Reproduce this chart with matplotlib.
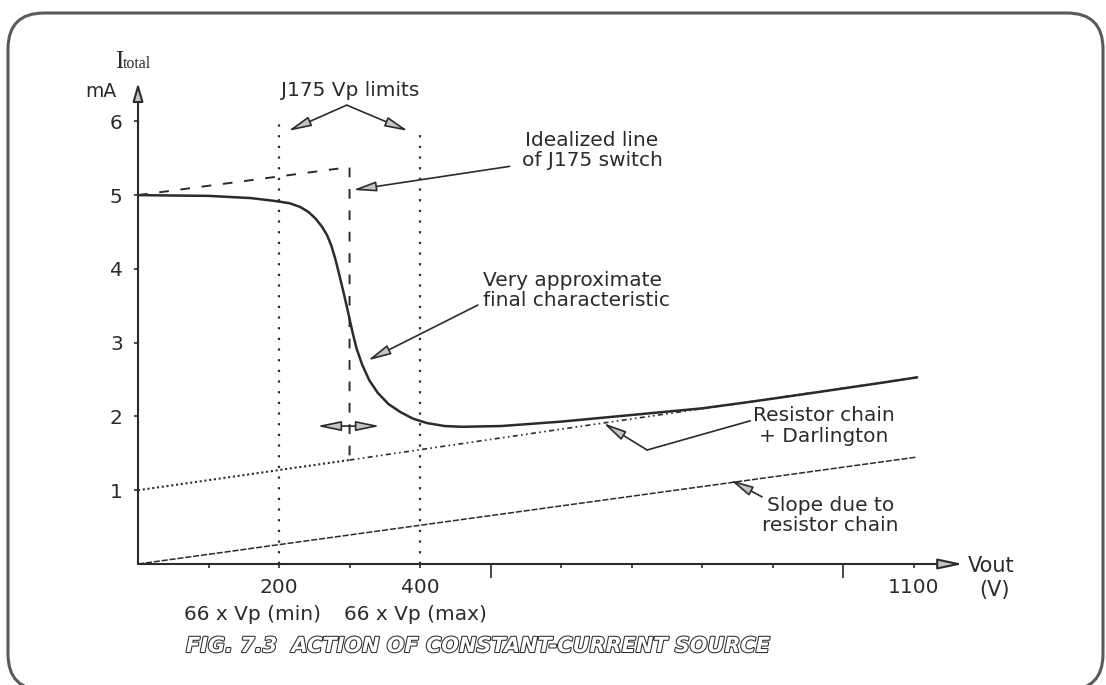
import matplotlib.pyplot as plt
import matplotlib.patheffects as pe
from matplotlib.patches import FancyBboxPatch

W, H = 1106, 685
INK = "#2b2b2b"
HEAD_FC = "#c4c4c4"

# ── curves: Vout (V) against Itotal (mA) ──
final_v = [0, 100, 160, 195, 215, 230, 242, 252, 261, 268, 274, 280, 286, 292,
           298, 304, 310, 318, 328, 340, 355, 372, 390, 410, 435, 460, 515, 600,
           700, 800, 870, 950, 1050, 1105]
final_i = [5.00, 4.99, 4.96, 4.92, 4.89, 4.84, 4.77, 4.68, 4.57, 4.46, 4.32, 4.13,
           3.90, 3.66, 3.41, 3.15, 2.92, 2.70, 2.49, 2.32, 2.17, 2.06, 1.97, 1.91,
           1.87, 1.86, 1.87, 1.93, 2.02, 2.11, 2.20, 2.31, 2.45, 2.53]

ideal_v = [0, 300, 300]
ideal_i = [5.00, 5.38, 1.41]

darl_v = [0, 300, 1105]
darl_i = [1.00, 1.41, 2.53]

chain_v = [0, 1105]
chain_i = [0.00, 1.45]

vp_v = [200, 400]
vp_top = [6.05, 5.92]

y_ticks = [1, 2, 3, 4, 5, 6]
x_major = [500, 1000]
x_minor = [100, 200, 300, 400, 600, 700, 800, 900, 1100]
x_minor_labels = ["", "200", "", "400", "", "", "", "", "1100"]

plt.rcParams["font.family"] = ["DejaVu Sans"]
plt.rcParams["text.color"] = INK

fig = plt.figure(figsize=(W / 100, H / 100), dpi=100)

# pixel-space layer for the frame and caption (y measured from the top)
bg = fig.add_axes([0, 0, 1, 1])
bg.set_xlim(0, W)
bg.set_ylim(0, H)
bg.axis("off")
bg.add_patch(FancyBboxPatch((8, H - 690), 1095, 690 - 13,
                            boxstyle="round,pad=0,rounding_size=36",
                            fill=False, ec="#5a5a5a", lw=2.2, clip_on=False))
bg.text(186, H - 646, "FIG. 7.3  ACTION OF CONSTANT-CURRENT SOURCE",
        fontsize=15, fontweight="bold", style="italic", color="white",
        va="center", ha="left",
        path_effects=[pe.withStroke(linewidth=1.5, foreground=INK)])

ax = fig.add_axes([138 / W, 1 - 564 / H, (963 - 138) / W, (564 - 83) / H])
ax.set_xlim(0, 1170)
ax.set_ylim(0, 6.52)
ax.patch.set_alpha(0)
for s in ax.spines.values():
    s.set_visible(False)


def arrow(tip, tail, hl=1.4, hw=0.3, lw=1.2):
    ax.annotate("", xy=tip, xytext=tail, annotation_clip=False,
                arrowprops=dict(arrowstyle=f"-|>,head_length={hl},head_width={hw}",
                                fc=HEAD_FC, ec=INK, lw=lw, shrinkA=0, shrinkB=0,
                                mutation_scale=10))


# axes drawn as arrows
arrow((1170, 0), (0, 0), hl=1.5, hw=0.32, lw=1.5)
arrow((0, 6.52), (0, 0), hl=1.1, hw=0.32, lw=1.5)

ax.set_yticks(y_ticks)
ax.set_xticks(x_major, labels=["", ""])
ax.set_xticks(x_minor, labels=x_minor_labels, minor=True)
ax.tick_params(axis="y", length=3, width=1.2, color=INK, pad=8,
               labelsize=14.5, labelcolor=INK)
ax.tick_params(axis="x", which="major", length=10, width=1.2, color=INK)
ax.tick_params(axis="x", which="minor", length=3, width=1.2, color=INK, pad=7,
               labelsize=14.5, labelcolor=INK)

# Vp limit markers
for v, top in zip(vp_v, vp_top):
    ax.plot([v, v], [0, top], color=INK, lw=1.6, ls=(0, (1, 3.8)))

ax.plot(chain_v, chain_i, color=INK, lw=1.1, ls=(0, (4, 1.2)))
ax.plot(darl_v[:2], darl_i[:2], color=INK, lw=1.5, ls=(0, (1, 1.3)))
ax.plot(darl_v[1:], darl_i[1:], color=INK, lw=1.2, ls=(0, (3, 2, 1, 2, 1, 2)))
ax.plot(ideal_v, ideal_i, color=INK, lw=1.4, ls=(0, (5, 6)))
ax.plot(final_v, final_i, color=INK, lw=1.8, solid_capstyle="round",
        solid_joinstyle="round")

# axis names
ax.text(-33, 6.73, "I", family="Liberation Serif", fontsize=18,
        ha="left", va="baseline", clip_on=False)
ax.text(-21, 6.73, "total", family="Liberation Serif", fontsize=11.5,
        ha="left", va="baseline", clip_on=False)
ax.text(-30, 6.33, "mA", fontsize=13.5, ha="right", va="baseline", clip_on=False)
ax.text(1177, -0.11, "Vout", fontsize=15, ha="left", va="baseline", clip_on=False)
ax.text(1214, -0.35, "(V)", fontsize=15, ha="center", va="center", clip_on=False)

ax.text(162, -0.68, "66 x Vp (min)", fontsize=14.5, ha="center", va="center",
        clip_on=False)
ax.text(393, -0.68, "66 x Vp (max)", fontsize=14.5, ha="center", va="center",
        clip_on=False)

# annotations
ax.text(301, 6.42, "J175 Vp limits", fontsize=14.5, ha="center", va="center",
        clip_on=False)
arrow((213, 5.87), (296, 6.22))
arrow((383, 5.87), (296, 6.22))

ax.text(644, 5.60, "Idealized line\nof J175 switch", fontsize=14.5,
        ha="center", va="center", linespacing=1.05)
arrow((305, 5.07), (527, 5.39))

ax.text(489, 3.71, "Very approximate\nfinal characteristic", fontsize=14.5,
        ha="left", va="center", linespacing=1.1)
arrow((326, 2.76), (482, 3.51))

ax.text(973, 1.87, "Resistor chain\n+ Darlington", fontsize=14.5,
        ha="center", va="center", linespacing=1.1)
ax.plot([868, 722], [1.94, 1.545], color=INK, lw=1.2)
arrow((660, 1.91), (722, 1.545))

ax.text(982, 0.66, "Slope due to\nresistor chain", fontsize=14.5,
        ha="center", va="center", linespacing=1.1)
arrow((840, 1.14), (885, 0.91))

# switching spread around 300 V
arrow((254, 1.87), (300, 1.87), hl=1.45, hw=0.3)
arrow((343, 1.87), (300, 1.87), hl=1.45, hw=0.3)

fig.savefig("out.png", dpi=100)
